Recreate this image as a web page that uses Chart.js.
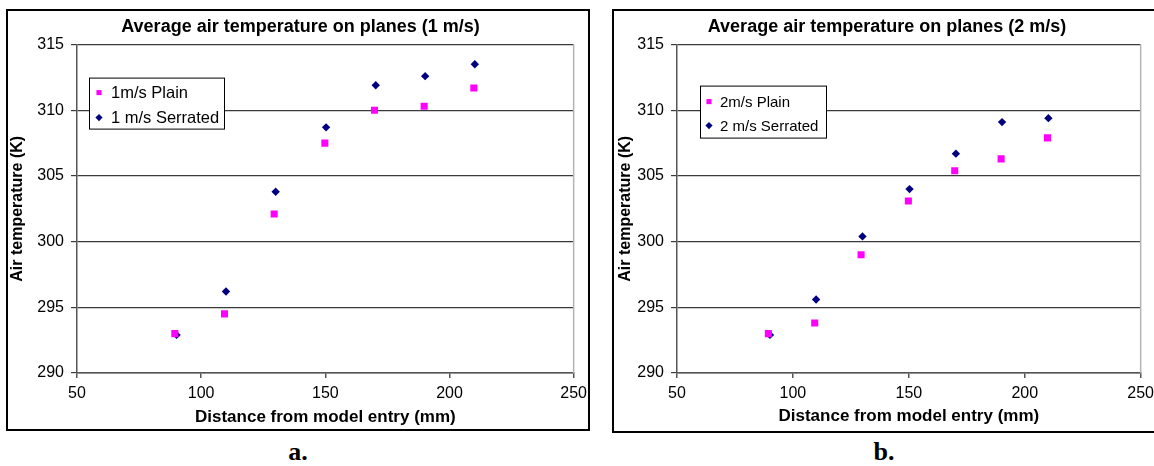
<!DOCTYPE html>
<html>
<head>
<meta charset="utf-8">
<script src="https://cdn.jsdelivr.net/npm/chart.js@4/dist/chart.umd.min.js"></script>
<style>
  body { margin: 0; background: #fff; width: 1154px; height: 466px; position: relative; overflow: hidden; }
  .frame { position: absolute; border: 2px solid #000; box-sizing: border-box; overflow: hidden; background: #fff; }
  .frame canvas { position: absolute; left: 0; top: 0; }
  .cap { position: absolute; width: 60px; text-align: center; font: bold 26px "Liberation Serif", "Times New Roman", serif; line-height: 26px; }
</style>
</head>
<body>
<div class="frame" style="left:6px; top:9px; width:584px; height:422px;">
  <canvas id="chartA" width="585" height="418"></canvas>
</div>
<div class="frame" style="left:612px; top:9px; width:560px; height:424px;">
  <canvas id="chartB" width="546" height="420"></canvas>
</div>
<div class="cap" style="left:268px; top:439px;">a.</div>
<div class="cap" style="left:854px; top:439px;">b.</div>

<script>
// distances (mm) - plain markers sit a touch left of the serrated ones
const distPlain = [89.4, 109.4, 129.4, 149.8, 169.8, 189.8, 209.8];
const distSerrated = [90.1, 110, 130, 150.3, 170.3, 190.2, 210.2];

// 1 m/s
const plain1 = [293.0, 294.5, 302.1, 307.5, 310.0, 310.3, 311.7];
const serrated1 = [292.9, 296.2, 303.8, 308.7, 311.9, 312.6, 313.5];

// 2 m/s
const plain2 = [293.0, 293.8, 299.0, 303.1, 305.4, 306.3, 307.9];
const serrated2 = [292.9, 295.6, 300.4, 304.0, 306.7, 309.1, 309.4];

const yTicks = [290, 295, 300, 305, 310, 315];
const xTicks = [50, 100, 150, 200, 250];

Chart.defaults.font.family = '"Liberation Sans", Arial, sans-serif';
Chart.defaults.color = '#000';

const toPoints = (xs, ys) => xs.map((x, i) => ({ x: x, y: ys[i] }));

// legend drawn inside the plot, Excel style
const boxLegend = {
    id: 'boxLegend',
    afterDatasetsDraw(chart, args, opts) {
        const ctx = chart.ctx;
        const x = chart.chartArea.left + opts.x;
        const y = chart.chartArea.top + opts.y;
        ctx.save();
        ctx.fillStyle = '#fff';
        ctx.fillRect(x, y, opts.w, opts.h);
        ctx.strokeStyle = '#000';
        ctx.lineWidth = 1;
        ctx.strokeRect(x + 0.5, y + 0.5, opts.w, opts.h);
        ctx.font = opts.size + 'px "Liberation Sans", Arial, sans-serif';
        ctx.textBaseline = 'middle';
        chart.data.datasets.forEach((ds, i) => {
            const cy = y + opts.rows[i];
            ctx.fillStyle = ds.backgroundColor;
            Chart.helpers.drawPoint(ctx, { pointStyle: ds.pointStyle, radius: 3.6, borderWidth: 0, rotation: 0 }, x + opts.mark, cy);
            ctx.fillStyle = '#000';
            ctx.fillText(ds.label, x + opts.text, cy + 1);
        });
        ctx.restore();
    }
};

// light grey right edge of the plot area
const rightEdge = {
    id: 'rightEdge',
    beforeDatasetsDraw(chart) {
        const { ctx, chartArea } = chart;
        ctx.save();
        ctx.strokeStyle = '#b4b4b4';
        ctx.lineWidth = 1.5;
        ctx.beginPath();
        ctx.moveTo(chartArea.right, chartArea.top);
        ctx.lineTo(chartArea.right, chartArea.bottom);
        ctx.stroke();
        ctx.restore();
    }
};

function makeChart(id, titleText, plain, serrated, labels, cfg) {
    return new Chart(document.getElementById(id), {
        type: 'scatter',
        data: {
            datasets: [{
                label: labels[0],
                data: toPoints(distPlain, plain),
                pointStyle: 'rect',
                pointRadius: 5,
                pointHoverRadius: 5,
                backgroundColor: '#ff00ff',
                borderColor: '#ff00ff',
                borderWidth: 0
            }, {
                label: labels[1],
                data: toPoints(distSerrated, serrated),
                pointStyle: 'rectRot',
                pointRadius: 4.2,
                pointHoverRadius: 4.2,
                backgroundColor: '#000080',
                borderColor: '#000080',
                borderWidth: 0
            }]
        },
        options: {
            responsive: false,
            animation: false,
            layout: { padding: 0 },
            plugins: {
                legend: { display: false },
                tooltip: { enabled: false },
                title: {
                    display: true,
                    text: titleText,
                    font: { size: 18, weight: 'bold' },
                    color: '#000',
                    padding: { top: 5, bottom: 7 }
                },
                boxLegend: cfg.legend
            },
            scales: {
                x: {
                    type: 'linear',
                    min: 50,
                    max: 250,
                    afterBuildTicks: (s) => { s.ticks = xTicks.map(v => ({ value: v })); },
                    afterFit: (s) => { s.height = cfg.xHeight; },
                    grid: { drawOnChartArea: false, drawTicks: true, tickLength: 5, color: '#555', lineWidth: 1.5 },
                    border: { display: true, color: '#555', width: 1.5 },
                    ticks: { font: { size: 16 }, color: '#000', padding: 6, maxRotation: 0 },
                    title: {
                        display: true,
                        text: 'Distance from model entry (mm)',
                        font: { size: 17, weight: 'bold' },
                        color: '#000',
                        padding: { top: 0, bottom: cfg.xTitlePad }
                    }
                },
                y: {
                    min: 290,
                    max: 315,
                    afterBuildTicks: (s) => { s.ticks = yTicks.map(v => ({ value: v })); },
                    afterFit: (s) => { s.width = cfg.yWidth; },
                    grid: { drawTicks: true, tickLength: 6, color: '#3a3a3a', lineWidth: 1.2 },
                    border: { display: true, color: '#555', width: 1.5 },
                    ticks: { font: { size: 16 }, color: '#000', padding: 7 },
                    title: {
                        display: true,
                        text: 'Air temperature (K)',
                        font: { size: 16, weight: 'bold' },
                        color: '#000',
                        padding: { top: cfg.yTitlePad, bottom: 0 }
                    }
                }
            }
        },
        plugins: [rightEdge, boxLegend]
    });
}

makeChart('chartA', 'Average air temperature on planes (1 m/s)', plain1, serrated1,
    ['1m/s Plain', '1 m/s Serrated'],
    { yWidth: 69, xHeight: 56, xTitlePad: 1, yTitlePad: 0,
      legend: { x: 12, y: 33, w: 135, h: 51, mark: 10, text: 22, rows: [15, 40], size: 16.5 } });

makeChart('chartB', 'Average air temperature on planes (2 m/s)', plain2, serrated2,
    ['2m/s Plain', '2 m/s Serrated'],
    { yWidth: 63, xHeight: 58, xTitlePad: 4, yTitlePad: 2,
      legend: { x: 23, y: 41, w: 126, h: 52, mark: 9, text: 20, rows: [16, 40], size: 15 } });
</script>
</body>
</html>
